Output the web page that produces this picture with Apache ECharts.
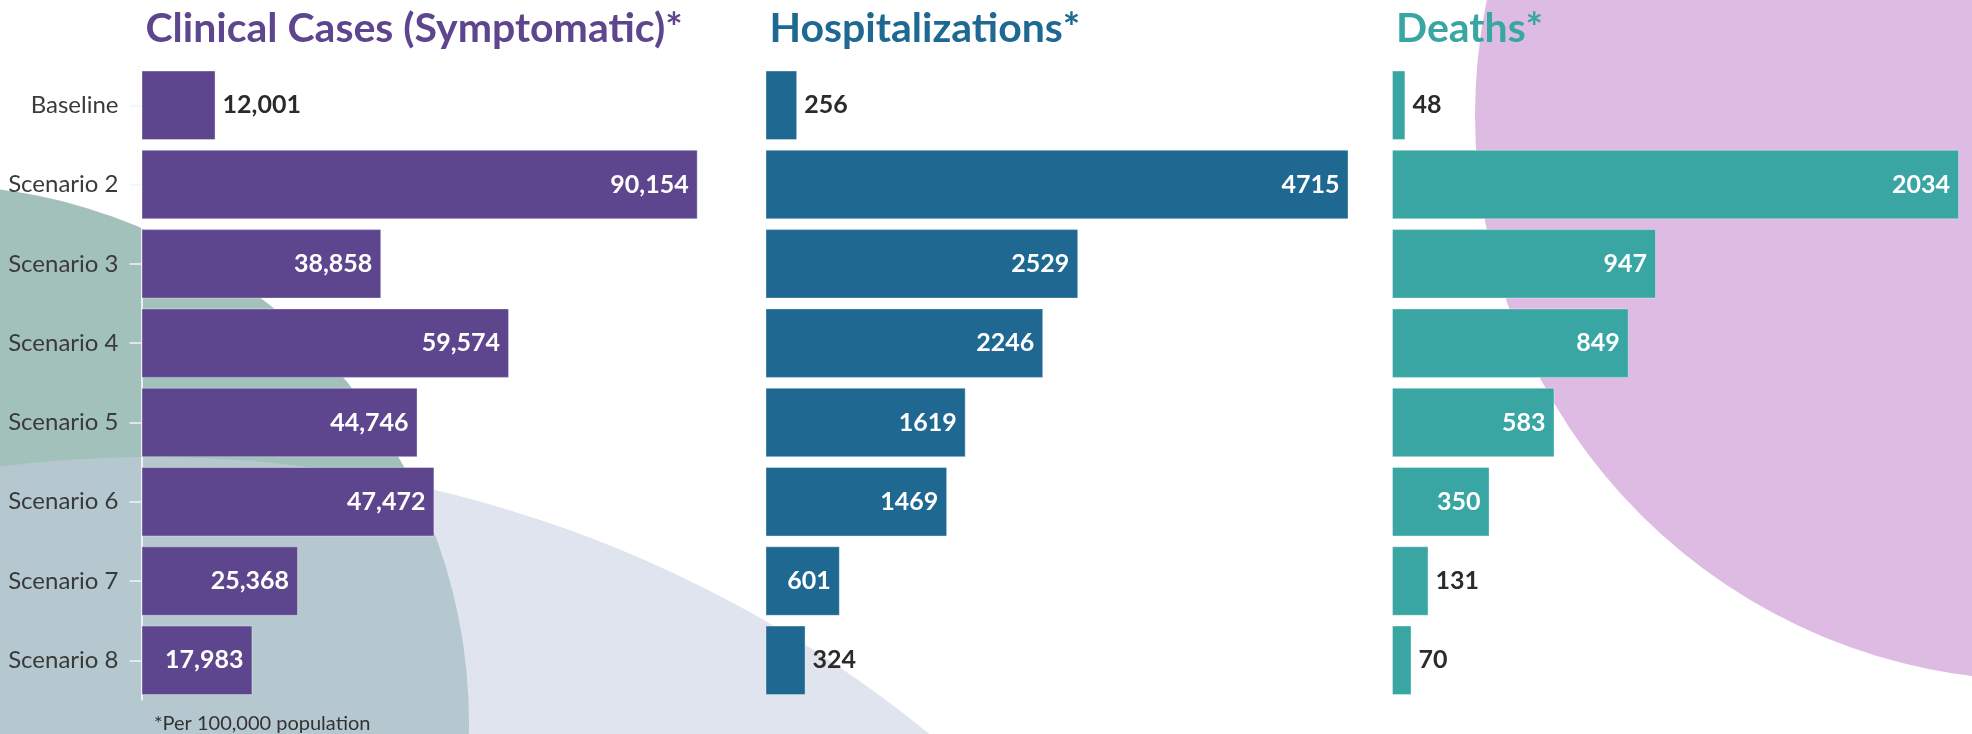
<!DOCTYPE html>
<html>
<head>
<meta charset="UTF-8">
<title>Scenario outcomes</title>
<script type="text/javascript" src="https://cdn.jsdelivr.net/npm/echarts@6/dist/echarts.min.js"></script>
<style>
  body { margin: 0; background: #fff; }
</style>
</head>
<body>
    <div id="main" style="width: 1972px; height: 734px;"></div>
    <script type="text/javascript">
        // data (per 100,000 population)
        var categories = ['Baseline', 'Scenario 2', 'Scenario 3', 'Scenario 4', 'Scenario 5', 'Scenario 6', 'Scenario 7', 'Scenario 8'];
        var cases = [12001, 90154, 38858, 59574, 44746, 47472, 25368, 17983];
        var hospitalizations = [256, 4715, 2529, 2246, 1619, 1469, 601, 324];
        var deaths = [48, 2034, 947, 849, 583, 350, 131, 70];
        var titles = ['Clinical Cases (Symptomatic)*', 'Hospitalizations*', 'Deaths*'];

        var FONT = 'Lato, "Noto Sans", sans-serif';
        var colors = ['#5e468e', '#1e6892', '#39a6a4'];
        var panels = [
            { left: 141.5, width: 556.2, values: cases, comma: true },
            { left: 765.5, width: 583, values: hospitalizations, comma: false },
            { left: 1392, width: 567, values: deaths, comma: false }
        ];
        var gridTop = 65.6, gridHeight = 634.4;

        function fmt(v, comma) {
            return comma ? v.toLocaleString('en-US') : String(v);
        }

        // label goes inside the bar when it fits, otherwise just past its end
        function buildData(p) {
            var max = Math.max.apply(null, p.values);
            return p.values.map(function (v) {
                var txt = fmt(v, p.comma);
                var barPx = v / max * p.width;
                var inside = barPx > txt.length * 14 + 16;
                return {
                    value: v,
                    label: inside
                        ? { position: 'insideRight', distance: 9, color: '#ffffff' }
                        : { position: 'right', distance: 7, color: '#2b2b2b' }
                };
            });
        }

        var grids = [], xAxes = [], yAxes = [], series = [], titleList = [];
        panels.forEach(function (p, i) {
            grids.push({ left: p.left, top: gridTop, width: p.width, height: gridHeight, containLabel: false });
            xAxes.push({
                type: 'value', gridIndex: i, min: 0, max: Math.max.apply(null, p.values),
                show: false, splitLine: { show: false }
            });
            yAxes.push({
                type: 'category', gridIndex: i, data: categories, inverse: true,
                axisLine: { show: i === 0, lineStyle: { color: '#ffffff', width: 1.5 } },
                axisTick: { show: i === 0, alignWithLabel: true, length: 12, lineStyle: { color: '#f2f4f4', width: 1.5 } },
                axisLabel: {
                    show: i === 0, margin: 23, fontFamily: FONT, fontSize: 24, color: '#3a3a3a'
                }
            });
            series.push({
                type: 'bar', xAxisIndex: i, yAxisIndex: i,
                data: buildData(p),
                barCategoryGap: '12.4%',
                itemStyle: { color: colors[i], borderColor: 'rgba(255,255,255,0.35)', borderWidth: 1 },
                label: {
                    show: true, fontFamily: FONT, fontSize: 25, fontWeight: 'bold',
                    formatter: (function (comma) {
                        return function (d) { return fmt(d.value, comma); };
                    })(p.comma)
                },
                silent: true
            });
            titleList.push({
                text: titles[i], left: p.left - 1, top: 3,
                textStyle: { fontFamily: FONT, fontSize: 41, fontWeight: 'bold', color: colors[i] }
            });
        });
        titleList.push({
            text: '*Per 100,000 population', left: 149, top: 709,
            textStyle: { fontFamily: FONT, fontSize: 20, fontWeight: 'normal', color: '#333333' }
        });

        var myChart = echarts.init(document.getElementById('main'));
        var option = {
            animation: false,
            title: titleList,
            graphic: [
                // decorative background circles
                { type: 'circle', silent: true, z: -10, shape: { cx: -69, cy: 723, r: 538 }, style: { fill: '#a3c1bb' } },
                { type: 'circle', silent: true, z: -9, shape: { cx: 152, cy: 1686, r: 1229 }, style: { fill: 'rgba(196,204,225,0.535)' } },
                { type: 'circle', silent: true, z: -8, shape: { cx: 2040, cy: 115, r: 565 }, style: { fill: '#ddbbe3' } }
            ],
            grid: grids,
            xAxis: xAxes,
            yAxis: yAxes,
            series: series
        };
        myChart.setOption(option);
    </script>
</body>
</html>
